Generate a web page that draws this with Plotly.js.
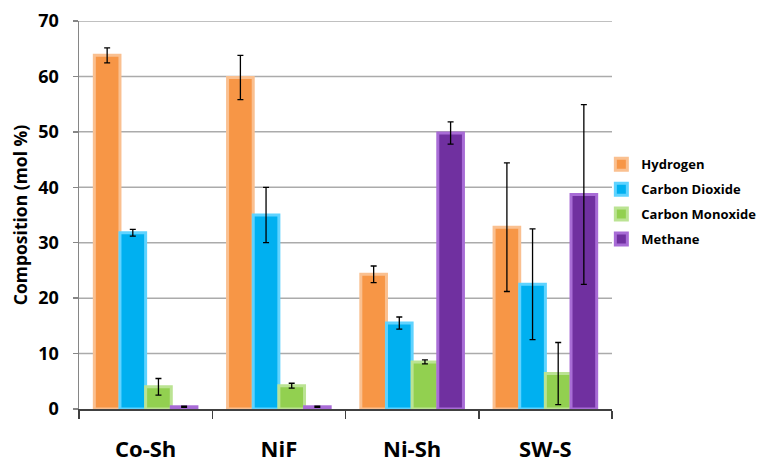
<!DOCTYPE html>
<html>
<head>
<meta charset="utf-8">
<script src="https://cdn.plot.ly/plotly-3.0.1.min.js"></script>
<style>html,body{margin:0;padding:0;background:#fff;}#chart{width:757px;height:462px;}</style>
</head>
<body>
<div id="chart"></div>
<script>
const categories = ["Co-Sh", "NiF", "Ni-Sh", "SW-S"];
const seriesNames = ["Hydrogen", "Carbon Dioxide", "Carbon Monoxide", "Methane"];
const hydrogen = [63.8, 59.8, 24.3, 32.8];
const hydrogenErr = [1.35, 4.0, 1.5, 11.6];
const carbonDioxide = [31.8, 35.0, 15.5, 22.5];
const carbonDioxideErr = [0.6, 5.0, 1.1, 10.0];
const carbonMonoxide = [4.0, 4.2, 8.5, 6.4];
const carbonMonoxideErr = [1.5, 0.45, 0.35, 5.6];
const methane = [0.4, 0.4, 49.8, 38.7];
const methaneErr = [0.1, 0.1, 2.0, 16.2];
const yTicks = [0, 10, 20, 30, 40, 50, 60, 70];

const fills = ["#F79646", "#00B0F0", "#92D050", "#7030A0"];
const borders = ["#FAC090", "#5FD3FF", "#BBE393", "#A86CD6"];
const values = [hydrogen, carbonDioxide, carbonMonoxide, methane];
const errs = [hydrogenErr, carbonDioxideErr, carbonMonoxideErr, methaneErr];

const catIndex = categories.map((c, i) => i);
const boundaries = [-0.5].concat(catIndex.map(i => i + 0.5));
const xMin = boundaries[0];
const xMax = boundaries[boundaries.length - 1];

const font = "'Open Sans', 'Liberation Sans', sans-serif";

const traces = seriesNames.map((name, i) => ({
  type: "bar",
  name: name,
  legendgroup: "g" + i,
  x: catIndex,
  y: values[i],
  marker: {color: fills[i], line: {color: borders[i], width: 3}},
  error_y: {type: "data", array: errs[i], visible: true, color: "#000000", thickness: 1.3, width: 3},
  hoverinfo: "skip"
}));

// horizontal gridlines spanning exactly the x axis range
const gridShapes = yTicks.filter(v => v > 0).map(v => ({
  type: "line", xref: "x", x0: xMin, x1: xMax, yref: "y", y0: v, y1: v,
  line: {color: "#ABABAB", width: 1.5}, layer: "below"
}));

const layout = {
  width: 757,
  height: 462,
  margin: {l: 79, r: 145, t: 21, b: 53, autoexpand: false},
  paper_bgcolor: "#ffffff",
  plot_bgcolor: "rgba(0,0,0,0)",
  barmode: "group",
  bargap: 0.23,
  bargroupgap: 0,
  showlegend: true,
  font: {family: font, color: "#000000"},
  shapes: gridShapes,
  legend: {
    x: 0.98, xanchor: "left", y: 0.534, yanchor: "middle",
    font: {family: font, size: 13, color: "#000000", weight: "bold"},
    traceorder: "grouped",
    tracegroupgap: 5,
    itemwidth: 30,
    bgcolor: "rgba(0,0,0,0)"
  },
  xaxis: {
    type: "linear",
    range: [xMin, xMax],
    autorange: false,
    tickmode: "array",
    tickvals: catIndex,
    ticktext: categories,
    showline: true, linecolor: "#404040", linewidth: 1.5,
    ticks: "outside", ticklen: 20, tickcolor: "rgba(0,0,0,0)", tickwidth: 1,
    minor: {tickmode: "array", tickvals: boundaries, ticks: "outside", ticklen: 8, tickcolor: "#404040", tickwidth: 1.5, showgrid: false},
    tickfont: {family: font, size: 22, color: "#000000", weight: "bold"},
    showgrid: false, zeroline: false, fixedrange: true
  },
  yaxis: {
    range: [0, 70],
    autorange: false,
    tickmode: "array",
    tickvals: yTicks,
    ticktext: yTicks.map(String),
    showline: true, linecolor: "#868686", linewidth: 1.5,
    ticks: "outside", ticklen: 5, tickcolor: "#868686", tickwidth: 1.5,
    tickfont: {family: font, size: 18, color: "#000000", weight: "bold"},
    ticklabelstandoff: 10,
    showgrid: false,
    zeroline: false,
    title: {text: "Composition (mol %)", font: {family: font, size: 17.5, color: "#000000", weight: "bold"}, standoff: 6},
    fixedrange: true
  }
};

Plotly.newPlot("chart", traces, layout, {displayModeBar: false, staticPlot: true});
</script>
</body>
</html>
